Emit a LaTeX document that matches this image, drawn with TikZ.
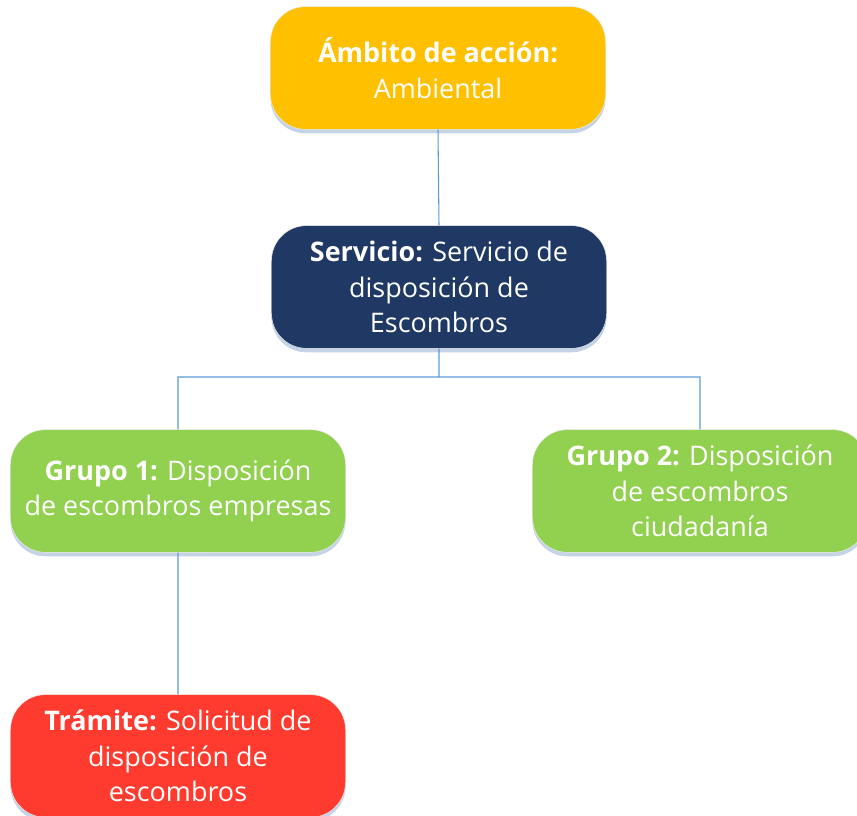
\documentclass[tikz,border=0pt]{standalone}
\usepackage{fontspec}
\setmainfont{Open Sans}
\usepackage{xcolor}
\usepackage{tikz}
\usetikzlibrary{positioning,shadows}

\definecolor{ambar}{HTML}{FFC000}
\definecolor{marino}{HTML}{203864}
\definecolor{verde}{HTML}{92D050}
\definecolor{rojo}{HTML}{FF3B2F}
\definecolor{enlace}{HTML}{5B9BD5}
\definecolor{sombra}{HTML}{C5D3E6}

\begin{document}
\begin{tikzpicture}
      [ x=0.03cm, y=-0.03cm,
        caja/.style={rectangle, rounded corners=1.05cm, align=center,
          text=white, font=\fontsize{23}{30.5}\selectfont,
          minimum width=10.05cm, minimum height=3.68cm, inner sep=0pt,
          draw=white!85!gray, line width=0.4pt,
          drop shadow={opacity=1, fill=sombra, shadow xshift=0pt, shadow yshift=-0.12cm}},
        enlace/.style={draw=enlace, line width=0.9pt}
      ]
      \useasboundingbox (0,0) rectangle (857,816);

      \node[caja, fill=ambar]   (ambito)  at (438,68)  {\textbf{Ámbito de acción:}\\Ambiental};
      \node[caja, fill=marino]  (servicio) at (439,287) {\textbf{Servicio:} Servicio de\\disposición de\\Escombros};
      \node[caja, fill=verde]   (grupo1)  at (178,491) {\textbf{Grupo 1:} Disposición\\de escombros empresas};
      \node[caja, fill=verde]   (grupo2)  at (700,491) {\textbf{Grupo 2:} Disposición\\de escombros\\ciudadanía};
      \node[caja, fill=rojo]    (tramite) at (178,756) {\textbf{Trámite:} Solicitud de\\disposición de\\escombros};

      \coordinate (cruce) at (servicio.south |- 0,377);

      \path[enlace] (ambito.south) -- (servicio.north)
                    (servicio.south) -- (cruce)
                    (cruce) -| (grupo1.north)
                    (cruce) -| (grupo2.north)
                    (grupo1.south) -- (tramite.north);
    \end{tikzpicture}
\end{document}
